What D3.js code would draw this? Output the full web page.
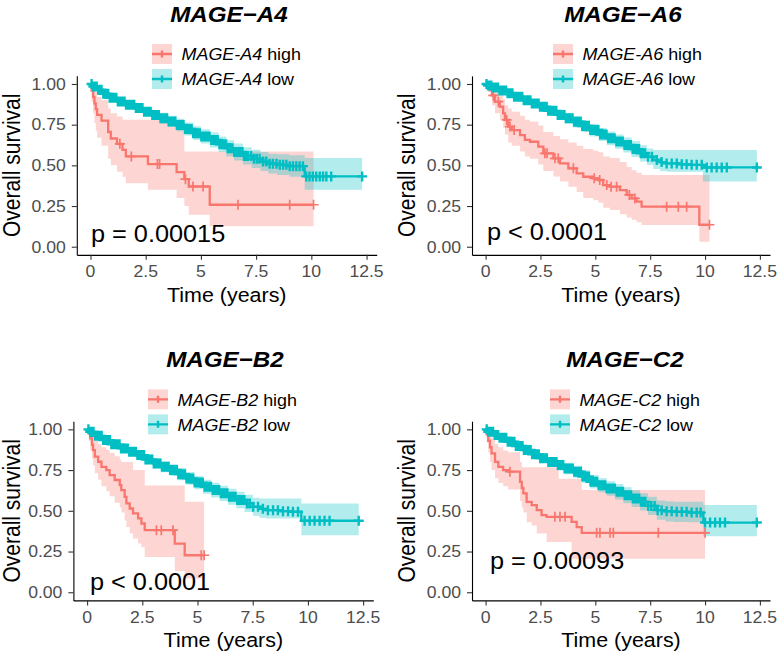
<!DOCTYPE html>
<html><head><meta charset="utf-8">
<script src="https://cdn.jsdelivr.net/npm/d3@7"></script>
<style>body{margin:0;background:#fff} svg{display:block}</style>
</head><body><svg id="c" width="777" height="655"></svg>
<script>
// ---------- shared labels ----------
const xTicks = [0, 2.5, 5, 7.5, 10, 12.5];
const xTickLabels = ["0", "2.5", "5", "7.5", "10", "12.5"];
const yTicks = [0, 0.25, 0.5, 0.75, 1];
const yTickLabels = ["0.00", "0.25", "0.50", "0.75", "1.00"];
const genes = ["MAGE-A4", "MAGE-A6", "MAGE-B2", "MAGE-C2"];
const titles = ["MAGE\u2212A4", "MAGE\u2212A6", "MAGE\u2212B2", "MAGE\u2212C2"];
const pLabels = ["p = 0.00015", "p < 0.0001", "p < 0.0001", "p = 0.00093"];
const groupNames = ["high", "low"];

// ---------- MAGE-A4 ----------
const a4HighT = [0, 0.05, 0.12, 0.18, 0.24, 0.3, 0.5, 0.8, 0.92, 1.2, 1.45, 1.6, 2.6, 3.9, 4.25, 4.45, 5.4];
const a4HighS = [1, 0.96, 0.92, 0.88, 0.845, 0.81, 0.775, 0.705, 0.665, 0.632, 0.595, 0.555, 0.508, 0.458, 0.415, 0.37, 0.258];
const a4HighEnd = 10.1;
const a4HighCiT = [0, 0.05, 0.12, 0.18, 0.24, 0.3, 0.5, 0.8, 0.92, 1.2, 1.45, 1.6, 2.6, 3.9, 4.25, 4.45, 5.4];
const a4HighLo = [1, 0.89, 0.82, 0.76, 0.71, 0.67, 0.62, 0.54, 0.5, 0.46, 0.43, 0.39, 0.35, 0.3, 0.25, 0.196, 0.125];
const a4HighHi = [1, 1, 0.99, 0.97, 0.95, 0.92, 0.9, 0.85, 0.82, 0.8, 0.78, 0.78, 0.78, 0.78, 0.585, 0.585, 0.585];
const a4HighC = [1.33, 1.85, 3.03, 3.13, 4.3, 4.64, 5.1, 6.68, 9.02, 10.1];

const a4LowT = [0, 0.1, 0.3, 0.55, 0.85, 1.2, 1.6, 2.0, 2.4, 2.8, 3.15, 3.5, 3.9, 4.25, 4.65, 5.0, 5.4, 5.8, 6.15, 6.5, 6.9, 7.3, 7.7, 8.05, 8.45, 9.0, 9.7];
const a4LowS = [1, 0.985, 0.965, 0.94, 0.915, 0.893, 0.873, 0.852, 0.83, 0.81, 0.79, 0.77, 0.748, 0.724, 0.698, 0.678, 0.656, 0.63, 0.605, 0.582, 0.558, 0.54, 0.523, 0.51, 0.503, 0.495, 0.432];
const a4LowEnd = 12.3;
const a4LowLo = [1, 0.978, 0.953, 0.925, 0.897, 0.872, 0.85, 0.826, 0.802, 0.78, 0.757, 0.735, 0.71, 0.684, 0.656, 0.634, 0.61, 0.582, 0.555, 0.53, 0.505, 0.484, 0.465, 0.45, 0.44, 0.43, 0.35];
const a4LowHi = [1, 0.992, 0.977, 0.955, 0.933, 0.914, 0.896, 0.878, 0.858, 0.84, 0.823, 0.805, 0.786, 0.764, 0.74, 0.722, 0.702, 0.678, 0.655, 0.634, 0.612, 0.596, 0.582, 0.572, 0.568, 0.562, 0.545];
const a4LowC = [0.05, 0.13, 0.2, 0.28, 0.35, 0.42, 0.5, 0.58, 0.64, 0.72, 0.8, 0.87, 0.94, 1.02, 1.09, 1.17, 1.24, 1.31, 1.39, 1.46, 1.54, 1.61, 1.68, 1.76, 1.83, 1.91, 1.98, 2.06, 2.13, 2.2, 2.28, 2.35, 2.43, 2.5, 2.57, 2.65, 2.72, 2.8, 2.87, 2.95, 3.02, 3.09, 3.17, 3.24, 3.32, 3.39, 3.47, 3.54, 3.61, 3.69, 3.76, 3.84, 3.91, 3.98, 4.06, 4.13, 4.21, 4.28, 4.36, 4.43, 4.5, 4.58, 4.65, 4.73, 4.8, 4.87, 4.95, 5.02, 5.1, 5.17, 5.25, 5.32, 5.39, 5.47, 5.54, 5.62, 5.69, 5.76, 5.84, 5.91, 5.99, 6.06, 6.14, 6.21, 6.28, 6.36, 6.43, 6.51, 6.58, 6.66, 6.73, 6.8, 6.88, 6.95, 7.03, 7.13, 7.27, 7.4, 7.53, 7.66, 7.81, 7.96, 8.11, 8.26, 8.42, 8.57, 8.72, 8.87, 9.02, 9.17, 9.32, 9.47, 9.62, 9.77, 9.92, 10.07, 10.22, 10.38, 10.53, 10.68, 10.9, 12.3];

// ---------- MAGE-A6 ----------
const a6HighT = [0, 0.1, 0.2, 0.3, 0.43, 0.65, 0.8, 0.88, 1.03, 1.19, 1.57, 1.79, 2.02, 2.4, 2.63, 3.09, 3.39, 3.77, 4.15, 4.45, 4.91, 5.14, 5.36, 5.67, 6.12, 6.43, 6.66, 6.88, 7.11, 9.74];
const a6HighS = [1, 0.98, 0.963, 0.93, 0.891, 0.86, 0.82, 0.779, 0.738, 0.717, 0.686, 0.656, 0.645, 0.615, 0.574, 0.543, 0.512, 0.482, 0.451, 0.43, 0.42, 0.41, 0.379, 0.369, 0.348, 0.318, 0.297, 0.277, 0.246, 0.135];
const a6HighEnd = 10.2;
const a6HighCiT = [0, 0.1, 0.2, 0.3, 0.43, 0.65, 0.8, 0.88, 1.03, 1.19, 1.57, 1.79, 2.02, 2.4, 2.63, 3.09, 3.39, 3.77, 4.15, 4.45, 4.91, 5.14, 5.36, 5.67, 6.12, 6.43, 6.66, 6.88, 7.11, 9.74];
const a6HighLo = [1, 0.95, 0.92, 0.87, 0.82, 0.78, 0.73, 0.69, 0.64, 0.62, 0.585, 0.555, 0.54, 0.505, 0.465, 0.432, 0.4, 0.368, 0.336, 0.3, 0.285, 0.27, 0.24, 0.225, 0.2, 0.18, 0.165, 0.15, 0.133, 0.03];
const a6HighHi = [1, 1, 0.995, 0.985, 0.96, 0.935, 0.905, 0.87, 0.85, 0.83, 0.805, 0.78, 0.77, 0.745, 0.705, 0.68, 0.66, 0.64, 0.62, 0.6, 0.59, 0.58, 0.555, 0.545, 0.52, 0.49, 0.47, 0.455, 0.44, 0.44];
const a6HighC = [0.35, 0.58, 0.96, 1.11, 1.3, 2.7, 2.8, 3.16, 3.31, 4.0, 4.95, 5.2, 5.52, 5.72, 5.97, 6.55, 6.8, 8.25, 8.78, 9.16, 10.2];

const a6LowT = [0, 0.1, 0.3, 0.6, 0.96, 1.3, 1.72, 2.1, 2.48, 2.85, 3.24, 3.6, 4.0, 4.4, 4.76, 5.15, 5.52, 5.9, 6.28, 6.65, 7.04, 7.35, 7.64, 7.95, 8.25, 8.86, 9.3, 9.9];
const a6LowS = [1, 0.99, 0.978, 0.96, 0.943, 0.922, 0.9, 0.88, 0.86, 0.835, 0.81, 0.79, 0.768, 0.742, 0.717, 0.69, 0.666, 0.646, 0.625, 0.6, 0.574, 0.553, 0.533, 0.52, 0.512, 0.506, 0.503, 0.487];
const a6LowEnd = 12.36;
const a6LowLo = [1, 0.984, 0.968, 0.946, 0.926, 0.902, 0.877, 0.855, 0.833, 0.806, 0.779, 0.757, 0.733, 0.705, 0.678, 0.65, 0.624, 0.602, 0.579, 0.552, 0.524, 0.502, 0.478, 0.465, 0.46, 0.46, 0.46, 0.4];
const a6LowHi = [1, 0.996, 0.988, 0.974, 0.96, 0.942, 0.923, 0.905, 0.887, 0.864, 0.841, 0.823, 0.803, 0.779, 0.756, 0.73, 0.708, 0.69, 0.671, 0.648, 0.624, 0.604, 0.594, 0.594, 0.594, 0.594, 0.594, 0.594];
const a6LowC = [0.04, 0.11, 0.19, 0.26, 0.33, 0.41, 0.48, 0.56, 0.63, 0.7, 0.78, 0.85, 0.93, 1.0, 1.07, 1.15, 1.22, 1.3, 1.37, 1.44, 1.52, 1.59, 1.67, 1.74, 1.81, 1.89, 1.96, 2.04, 2.11, 2.18, 2.26, 2.33, 2.41, 2.48, 2.55, 2.63, 2.7, 2.78, 2.85, 2.92, 3.0, 3.07, 3.15, 3.22, 3.29, 3.37, 3.44, 3.52, 3.59, 3.66, 3.74, 3.81, 3.89, 3.96, 4.03, 4.11, 4.18, 4.26, 4.33, 4.4, 4.48, 4.55, 4.63, 4.7, 4.77, 4.85, 4.92, 5.0, 5.07, 5.14, 5.22, 5.29, 5.37, 5.44, 5.51, 5.59, 5.66, 5.74, 5.81, 5.88, 5.96, 6.03, 6.11, 6.18, 6.25, 6.33, 6.4, 6.48, 6.55, 6.62, 6.7, 6.77, 6.85, 6.92, 6.99, 7.07, 7.16, 7.27, 7.4, 7.58, 7.8, 8.02, 8.25, 8.48, 8.71, 8.94, 9.16, 9.39, 9.62, 9.85, 10.08, 10.3, 10.53, 10.76, 10.99, 12.36];

// ---------- MAGE-B2 ----------
const b2HighT = [0, 0.08, 0.15, 0.22, 0.27, 0.35, 0.5, 0.65, 0.87, 1.02, 1.25, 1.48, 1.55, 1.7, 1.78, 1.93, 2.08, 2.31, 2.46, 2.61, 3.97, 4.42];
const b2HighS = [1, 0.975, 0.945, 0.905, 0.873, 0.832, 0.801, 0.77, 0.75, 0.719, 0.689, 0.658, 0.627, 0.586, 0.545, 0.514, 0.484, 0.453, 0.422, 0.381, 0.299, 0.227];
const b2HighEnd = 5.3;
const b2HighCiT = [0, 0.08, 0.15, 0.22, 0.27, 0.35, 0.5, 0.65, 0.87, 1.02, 1.25, 1.48, 1.55, 1.7, 1.78, 1.93, 2.08, 2.31, 2.46, 2.61, 3.97, 4.42];
const b2HighLo = [1, 0.93, 0.87, 0.82, 0.78, 0.73, 0.69, 0.65, 0.62, 0.59, 0.55, 0.52, 0.49, 0.44, 0.4, 0.36, 0.33, 0.3, 0.277, 0.216, 0.13, 0.085];
const b2HighHi = [1, 1, 0.99, 0.97, 0.95, 0.93, 0.91, 0.89, 0.875, 0.855, 0.835, 0.815, 0.8, 0.8, 0.8, 0.8, 0.75, 0.75, 0.75, 0.655, 0.655, 0.555];
const b2HighC = [3.14, 3.36, 3.89, 5.17, 5.3];

const b2LowT = [0, 0.1, 0.35, 0.72, 1.1, 1.48, 1.85, 2.23, 2.6, 2.99, 3.36, 3.74, 4.1, 4.49, 4.87, 5.25, 5.62, 6.0, 6.38, 6.76, 7.13, 7.51, 7.8, 8.11, 8.7, 9.32, 9.7];
const b2LowS = [1, 0.985, 0.96, 0.934, 0.908, 0.883, 0.862, 0.842, 0.815, 0.791, 0.77, 0.75, 0.725, 0.699, 0.673, 0.648, 0.627, 0.607, 0.586, 0.566, 0.545, 0.525, 0.512, 0.504, 0.498, 0.494, 0.439];
const b2LowEnd = 12.3;
const b2LowLo = [1, 0.977, 0.948, 0.918, 0.888, 0.86, 0.837, 0.815, 0.786, 0.76, 0.737, 0.715, 0.688, 0.66, 0.632, 0.605, 0.582, 0.56, 0.537, 0.515, 0.492, 0.47, 0.458, 0.453, 0.453, 0.453, 0.35];
const b2LowHi = [1, 0.993, 0.972, 0.95, 0.928, 0.906, 0.887, 0.869, 0.844, 0.822, 0.803, 0.785, 0.762, 0.738, 0.714, 0.691, 0.672, 0.654, 0.635, 0.617, 0.598, 0.58, 0.576, 0.576, 0.576, 0.576, 0.545];
const b2LowC = [0.06, 0.14, 0.21, 0.29, 0.36, 0.43, 0.51, 0.58, 0.66, 0.73, 0.8, 0.88, 0.95, 1.03, 1.1, 1.17, 1.25, 1.32, 1.4, 1.47, 1.54, 1.62, 1.69, 1.77, 1.84, 1.91, 1.99, 2.06, 2.14, 2.21, 2.28, 2.36, 2.43, 2.51, 2.58, 2.65, 2.73, 2.8, 2.88, 2.95, 3.02, 3.1, 3.17, 3.25, 3.32, 3.39, 3.47, 3.54, 3.62, 3.69, 3.76, 3.84, 3.91, 3.99, 4.06, 4.13, 4.21, 4.28, 4.36, 4.43, 4.5, 4.58, 4.65, 4.73, 4.8, 4.87, 4.95, 5.02, 5.1, 5.17, 5.24, 5.32, 5.39, 5.47, 5.54, 5.61, 5.69, 5.76, 5.84, 5.91, 5.98, 6.06, 6.13, 6.21, 6.28, 6.35, 6.43, 6.5, 6.58, 6.65, 6.72, 6.8, 6.87, 6.95, 7.02, 7.12, 7.24, 7.37, 7.52, 7.74, 7.96, 8.19, 8.42, 8.64, 8.87, 9.1, 9.32, 9.55, 9.85, 10.08, 10.3, 10.53, 10.75, 10.98, 12.3];

// ---------- MAGE-C2 ----------
const c2HighT = [0, 0.05, 0.12, 0.2, 0.27, 0.43, 0.58, 0.8, 1.03, 1.57, 1.65, 1.72, 1.87, 2.1, 2.33, 2.55, 2.78, 3.92, 4.15, 4.38];
const c2HighS = [1, 0.97, 0.93, 0.89, 0.852, 0.8, 0.77, 0.75, 0.74, 0.678, 0.64, 0.607, 0.555, 0.535, 0.504, 0.473, 0.463, 0.432, 0.4, 0.365];
const c2HighEnd = 10.0;
const c2HighCiT = [0, 0.05, 0.12, 0.2, 0.27, 0.43, 0.58, 0.8, 1.03, 1.57, 1.65, 1.72, 1.87, 2.1, 2.33, 2.78, 3.33, 3.92, 4.38];
const c2HighLo = [1, 0.92, 0.86, 0.8, 0.75, 0.7, 0.67, 0.65, 0.63, 0.56, 0.52, 0.49, 0.43, 0.41, 0.36, 0.308, 0.308, 0.206, 0.206];
const c2HighHi = [1, 1, 0.99, 0.97, 0.95, 0.91, 0.89, 0.87, 0.86, 0.8, 0.767, 0.767, 0.767, 0.767, 0.767, 0.767, 0.696, 0.696, 0.627];
const c2HighC = [1.11, 3.16, 3.39, 3.62, 5.06, 5.21, 5.67, 5.82, 7.87, 10.0];

const c2LowT = [0, 0.1, 0.35, 0.6, 0.96, 1.35, 1.72, 2.1, 2.48, 2.85, 3.24, 3.6, 4.0, 4.4, 4.76, 5.15, 5.52, 5.9, 6.28, 6.65, 7.04, 7.4, 7.8, 8.2, 8.56, 9.2, 9.92];
const c2LowS = [1, 0.985, 0.965, 0.948, 0.924, 0.898, 0.873, 0.847, 0.822, 0.8, 0.781, 0.76, 0.74, 0.71, 0.678, 0.657, 0.637, 0.617, 0.596, 0.575, 0.555, 0.53, 0.504, 0.497, 0.494, 0.489, 0.428];
const c2LowEnd = 12.36;
const c2LowLo = [1, 0.977, 0.953, 0.932, 0.905, 0.876, 0.848, 0.82, 0.793, 0.769, 0.748, 0.725, 0.703, 0.671, 0.637, 0.614, 0.592, 0.57, 0.547, 0.524, 0.502, 0.474, 0.445, 0.435, 0.432, 0.43, 0.344];
const c2LowHi = [1, 0.993, 0.977, 0.964, 0.943, 0.92, 0.898, 0.874, 0.851, 0.831, 0.814, 0.795, 0.777, 0.749, 0.719, 0.7, 0.682, 0.664, 0.645, 0.626, 0.608, 0.586, 0.563, 0.559, 0.556, 0.555, 0.535];
const c2LowC = [0.05, 0.12, 0.2, 0.27, 0.34, 0.42, 0.49, 0.57, 0.64, 0.71, 0.79, 0.86, 0.94, 1.01, 1.08, 1.16, 1.23, 1.31, 1.38, 1.45, 1.53, 1.6, 1.68, 1.75, 1.82, 1.9, 1.97, 2.05, 2.12, 2.19, 2.27, 2.34, 2.42, 2.49, 2.56, 2.64, 2.71, 2.79, 2.86, 2.93, 3.01, 3.08, 3.16, 3.23, 3.3, 3.38, 3.45, 3.53, 3.6, 3.67, 3.75, 3.82, 3.9, 3.97, 4.04, 4.12, 4.19, 4.27, 4.34, 4.41, 4.49, 4.56, 4.64, 4.71, 4.78, 4.86, 4.93, 5.01, 5.08, 5.15, 5.23, 5.3, 5.38, 5.45, 5.52, 5.6, 5.67, 5.75, 5.82, 5.89, 5.97, 6.04, 6.12, 6.19, 6.26, 6.34, 6.41, 6.49, 6.56, 6.63, 6.71, 6.78, 6.86, 6.93, 7.0, 7.08, 7.17, 7.28, 7.41, 7.55, 7.7, 7.84, 8.02, 8.25, 8.48, 8.71, 8.94, 9.16, 9.39, 9.62, 9.8, 10.0, 10.23, 10.46, 10.68, 10.91, 12.36];

// ---------- assemble (structure only) ----------
const datasets = [
  { high: {t: a4HighT, s: a4HighS, end: a4HighEnd, ciT: a4HighCiT, lo: a4HighLo, hi: a4HighHi, c: a4HighC},
    low:  {t: a4LowT,  s: a4LowS,  end: a4LowEnd,  ciT: a4LowT,    lo: a4LowLo,  hi: a4LowHi,  c: a4LowC} },
  { high: {t: a6HighT, s: a6HighS, end: a6HighEnd, ciT: a6HighCiT, lo: a6HighLo, hi: a6HighHi, c: a6HighC},
    low:  {t: a6LowT,  s: a6LowS,  end: a6LowEnd,  ciT: a6LowT,    lo: a6LowLo,  hi: a6LowHi,  c: a6LowC} },
  { high: {t: b2HighT, s: b2HighS, end: b2HighEnd, ciT: b2HighCiT, lo: b2HighLo, hi: b2HighHi, c: b2HighC},
    low:  {t: b2LowT,  s: b2LowS,  end: b2LowEnd,  ciT: b2LowT,    lo: b2LowLo,  hi: b2LowHi,  c: b2LowC} },
  { high: {t: c2HighT, s: c2HighS, end: c2HighEnd, ciT: c2HighCiT, lo: c2HighLo, hi: c2HighHi, c: c2HighC},
    low:  {t: c2LowT,  s: c2LowS,  end: c2LowEnd,  ciT: c2LowT,    lo: c2LowLo,  hi: c2LowHi,  c: c2LowC} }
];

// ---------- layout ----------
const layouts = [
  {left: 76.8, right: 376.7, top: 75.85, bottom: 254.85, titleX: 229, titleY: 22, keyX: 152, tickY: 277, xTitleY: 302, pY: 241.5, pX: 91, yTitleX: 19.5},
  {left: 472, right: 770, top: 75.85, bottom: 254.85, titleX: 623, titleY: 22, keyX: 553, tickY: 277, xTitleY: 302, pY: 240, pX: 487, yTitleX: 415},
  {left: 73.4, right: 373.3, top: 421.2, bottom: 600.4, titleX: 225, titleY: 367, keyX: 148, tickY: 623, xTitleY: 647, pY: 590, pX: 90, yTitleX: 19.5},
  {left: 472, right: 770, top: 421.2, bottom: 600.4, titleX: 625, titleY: 367, keyX: 550, tickY: 623, xTitleY: 647, pY: 569, pX: 490, yTitleX: 415}
];

const colors = {high: "#F8766D", low: "#00BFC4"};
const crossW = {high: 1.7, low: 2.4};
const SX = 1.1;             // horizontal stretch of the original raster
const FONT = "'Liberation Sans', Arial, Helvetica, sans-serif";
const svg = d3.select("#c");

function txt(g, x, y, str, o) {
  const t = g.append("text")
    .attr("transform", `translate(${x},${y}) scale(${SX},1)` + (o.rotate ? ` rotate(${o.rotate})` : ""))
    .attr("font-family", FONT)
    .attr("font-size", o.size)
    .attr("text-anchor", o.anchor || "start")
    .attr("fill", o.fill || "#000");
  if (o.weight) t.attr("font-weight", o.weight);
  if (o.style) t.attr("font-style", o.style);
  t.text(str);
  return t;
}

function stepVal(arrT, arrV, x) {
  const i = Math.max(0, d3.bisectRight(arrT, x) - 1);
  return arrV[i];
}

datasets.forEach((ds, k) => {
  const L = layouts[k];
  const g = svg.append("g");
  const x = d3.scaleLinear().domain([-0.62, 12.96]).range([L.left, L.right]);
  const y = d3.scaleLinear().domain([-0.05, 1.05]).range([L.bottom, L.top]);

  const area = d3.area().curve(d3.curveStepAfter)
    .x(d => x(d[0])).y0(d => y(d[1])).y1(d => y(d[2]));
  const line = d3.line().curve(d3.curveStepAfter)
    .x(d => x(d[0])).y(d => y(d[1]));

  // confidence ribbons
  groupNames.forEach(gn => {
    const d = ds[gn];
    const pts = d.ciT.map((t, i) => [t, d.lo[i], d.hi[i]]);
    pts.push([d.end, d.lo[d.lo.length - 1], d.hi[d.hi.length - 1]]);
    g.append("path").attr("d", area(pts))
      .attr("fill", colors[gn]).attr("fill-opacity", 0.3).attr("stroke", "none");
  });
  // curves + censor marks
  groupNames.forEach(gn => {
    const d = ds[gn];
    const pts = d.t.map((t, i) => [t, d.s[i]]);
    pts.push([d.end, d.s[d.s.length - 1]]);
    g.append("path").attr("d", line(pts))
      .attr("fill", "none").attr("stroke", colors[gn]).attr("stroke-width", 2.3);
    const cp = d.c.map(c => {
      const cx = x(c), cy = y(stepVal(d.t, d.s, c));
      return `M${cx - 5},${cy}H${cx + 5}M${cx},${cy - 5}V${cy + 5}`;
    }).join("");
    g.append("path").attr("d", cp).attr("fill", "none")
      .attr("stroke", colors[gn]).attr("stroke-width", crossW[gn]);
  });

  // axes
  const xa = g.append("g").attr("transform", `translate(0,${L.bottom})`)
    .call(d3.axisBottom(x).tickValues(xTicks).tickFormat("").tickSize(5).tickSizeOuter(0));
  const ya = g.append("g").attr("transform", `translate(${L.left},0)`)
    .call(d3.axisLeft(y).tickValues(yTicks).tickFormat("").tickSize(5).tickSizeOuter(0));
  [xa, ya].forEach(a => {
    a.select(".domain").attr("stroke", "#000").attr("stroke-width", 1.1);
    a.selectAll(".tick line").attr("stroke", "#333").attr("stroke-width", 1.1);
  });
  xTicks.forEach((v, i) => txt(g, x(v), L.tickY, xTickLabels[i], {size: 16, anchor: "middle", fill: "#4D4D4D"}));
  yTicks.forEach((v, i) => txt(g, L.left - 11, y(v) + 5.8, yTickLabels[i], {size: 16, anchor: "end", fill: "#4D4D4D"}));

  txt(g, (L.left + L.right) / 2, L.xTitleY, "Time (years)", {size: 19.5, anchor: "middle"});
  txt(g, L.yTitleX, (L.top + L.bottom) / 2, "Overall survival", {size: 21, anchor: "middle", rotate: -90});

  // title
  txt(g, L.titleX, L.titleY, titles[k], {size: 22, anchor: "middle", weight: "bold", style: "italic"});

  // p-value
  txt(g, L.pX, L.pY, pLabels[k], {size: 23});

  // legend
  groupNames.forEach((gn, j) => {
    const cy = y(1) - 30 + j * 25;
    g.append("rect").attr("x", L.keyX).attr("y", cy - 10).attr("width", 20).attr("height", 20)
      .attr("fill", colors[gn]).attr("fill-opacity", 0.3);
    g.append("path").attr("d", `M${L.keyX},${cy}H${L.keyX + 20}M${L.keyX + 10},${cy - 3.5}V${cy + 3.5}`)
      .attr("stroke", colors[gn]).attr("stroke-width", 2.4).attr("fill", "none");
    const t = g.append("text")
      .attr("transform", `translate(${L.keyX + 29.5},${cy + 6.3}) scale(${SX},1)`)
      .attr("font-family", FONT).attr("font-size", 16.3).attr("fill", "#000")
      .style("white-space", "pre");
    t.append("tspan").attr("font-style", "italic").text(genes[k]);
    t.append("tspan").text(" " + groupNames[j]);
  });
});
</script></body></html>
